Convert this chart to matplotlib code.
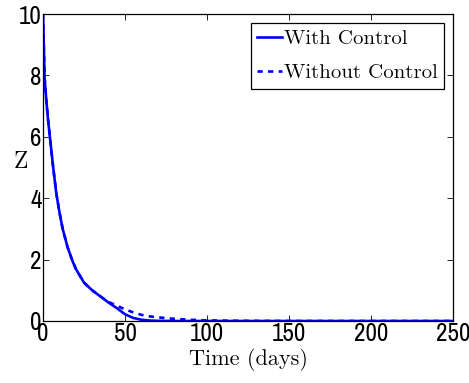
import matplotlib
matplotlib.use('Agg')
import matplotlib.pyplot as plt

# data
t = [0, 1, 2, 3, 4, 5, 6, 8, 10, 12, 15, 18, 20, 25, 30, 35, 40, 45, 50,
     55, 60, 65, 70, 80, 90, 100, 120, 150, 200, 250]
z_control = [10, 7.9, 7.2, 6.6, 6.1, 5.6, 5.1, 4.2, 3.55, 3.0, 2.4, 1.95,
             1.7, 1.25, 1.0, 0.8, 0.6, 0.42, 0.22, 0.1, 0.04, 0.015, 0.005,
             0, 0, 0, 0, 0, 0, 0]
z_nocontrol = [10, 7.9, 7.2, 6.6, 6.1, 5.6, 5.1, 4.2, 3.55, 3.0, 2.4, 1.95,
               1.7, 1.25, 1.0, 0.8, 0.62, 0.5, 0.38, 0.28, 0.2, 0.15, 0.12,
               0.07, 0.04, 0.02, 0.006, 0, 0, 0]
xticks = [0, 50, 100, 150, 200, 250]
yticks = [0, 2, 4, 6, 8, 10]

tick_font = 'Archivo Narrow'
label_font = 'Latin Modern Roman'

fig = plt.figure(figsize=(4.69, 3.83), dpi=100)
ax = fig.add_axes([43 / 469, 1 - 321 / 383, 410 / 469, 307 / 383])

ax.plot(t, z_control, color='#0000ff', lw=1.9, label='With Control')
ax.plot(t, z_nocontrol, color='#0000ff', lw=1.9, dashes=(2, 2), label='Without Control')

ax.set_xlim(0, 250)
ax.set_ylim(0, 10)
ax.set_xticks(xticks)
ax.set_yticks(yticks)
ax.tick_params(direction='in', length=4, width=0.6, top=True, right=True, pad=1,
               labelsize=18)
for lbl in ax.get_xticklabels() + ax.get_yticklabels():
    lbl.set_fontfamily(tick_font)
for s in ax.spines.values():
    s.set_linewidth(0.9)

ax.set_xlabel('Time (days)', fontsize=16, family=label_font, labelpad=2)
ax.set_ylabel('Z', fontsize=17, family=label_font, rotation=0, va='center')
ax.yaxis.set_label_coords(-0.055, 0.518)

leg = ax.legend(loc='upper right', prop={'family': label_font, 'size': 15},
                fancybox=False, edgecolor='black', framealpha=1, handlelength=1.2,
                handletextpad=0.05, borderpad=0.3, labelspacing=0.75,
                borderaxespad=0.45)
leg.get_frame().set_linewidth(0.9)

fig.savefig('out.png', dpi=100)
